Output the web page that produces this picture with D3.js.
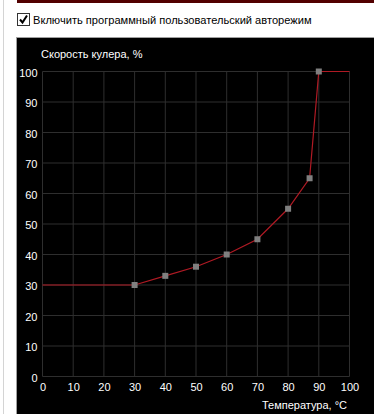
<!DOCTYPE html>
<html><head><meta charset="utf-8">
<script src="https://cdn.jsdelivr.net/npm/d3@7/dist/d3.min.js"></script>
<style>
html,body{margin:0;padding:0;background:#fff;}
svg{display:block;font-family:"Liberation Sans",Arial,sans-serif;}
</style></head>
<body>
<svg id="c" width="386" height="420"></svg>
<script>
// Data
const temperatures = [0, 30, 40, 50, 60, 70, 80, 87, 90, 100];
const fanSpeeds    = [30, 30, 33, 36, 40, 45, 55, 65, 100, 100];
const markerIdx    = [1, 2, 3, 4, 5, 6, 7, 8];
const xTicks = [0,10,20,30,40,50,60,70,80,90,100];
const yTicks = [0,10,20,30,40,50,60,70,80,90,100];
const checkboxLabel = "Включить программный пользовательский авторежим";
const yTitle = "Скорость кулера, %";
const xTitle = "Температура, °C";

const svg = d3.select("#c");

// window chrome
svg.append("rect").attr("x",0).attr("y",0).attr("width",386).attr("height",420).attr("fill","#fff");
svg.append("rect").attr("x",3).attr("y",0).attr("width",1).attr("height",414).attr("fill","#d4d4d4");
svg.append("rect").attr("x",17).attr("y",0).attr("width",357).attr("height",3).attr("fill","#520000");

// checkbox
svg.append("rect").attr("x",17.5).attr("y",13.5).attr("width",12).attr("height",12)
  .attr("fill","#fff").attr("stroke","#333");
svg.append("path").attr("d","M20,19.5 L22.5,22.5 L27,15.5").attr("fill","none")
  .attr("stroke","#000").attr("stroke-width",2);
svg.append("text").attr("x",33).attr("y",24).attr("font-size",11.1).attr("fill","#000").text(checkboxLabel);

// panel
svg.append("rect").attr("x",16).attr("y",37).attr("width",358).attr("height",377).attr("fill","#a0a0a0");
svg.append("rect").attr("x",17).attr("y",38).attr("width",357).attr("height",376).attr("fill","#000");

const x = d3.scaleLinear().domain([0,100]).range([42.5,349.5]);
const y = d3.scaleLinear().domain([0,100]).range([376.5,71.5]);

// grid
const g = svg.append("g");
g.selectAll("line.v").data(xTicks).join("line")
  .attr("x1",d=>x(d)).attr("x2",d=>x(d)).attr("y1",y(0)).attr("y2",y(100))
  .attr("stroke","#2e2e2e");
g.selectAll("line.h").data(yTicks).join("line")
  .attr("y1",d=>y(d)).attr("y2",d=>y(d)).attr("x1",x(0)).attr("x2",x(100))
  .attr("stroke","#2e2e2e");

// axes labels via d3 axis
const yAxis = svg.append("g").attr("transform",`translate(${x(0)},0)`)
  .call(d3.axisLeft(y).tickValues(yTicks).tickSize(0).tickPadding(5));
const xAxis = svg.append("g").attr("transform",`translate(0,${y(0)})`)
  .call(d3.axisBottom(x).tickValues(xTicks).tickSize(0).tickPadding(7));
[yAxis,xAxis].forEach(a=>{
  a.select(".domain").remove();
  a.selectAll("text").attr("fill","#fff").attr("font-size",11)
   .attr("font-family","'Liberation Sans',Arial,sans-serif");
});
yAxis.selectAll("text").attr("dy","0.45em");

// titles
svg.append("text").attr("x",41).attr("y",58).attr("font-size",11).attr("fill","#fff").text(yTitle);
svg.append("text").attr("x",347).attr("y",409).attr("text-anchor","end").attr("font-size",11).attr("fill","#fff").text(xTitle);

// curve
const pts = temperatures.map((t,i)=>[t,fanSpeeds[i]]);
svg.append("path").datum(pts)
  .attr("d", d3.line().x(d=>x(d[0])).y(d=>y(d[1])))
  .attr("fill","none").attr("stroke","#b01a24").attr("stroke-width",1.2);

svg.selectAll("rect.m").data(markerIdx.map(i=>pts[i])).join("rect")
  .attr("class","m")
  .attr("x",d=>x(d[0])-3).attr("y",d=>y(d[1])-3)
  .attr("width",6).attr("height",6).attr("fill","#7f7f7f");
</script>
</body></html>
